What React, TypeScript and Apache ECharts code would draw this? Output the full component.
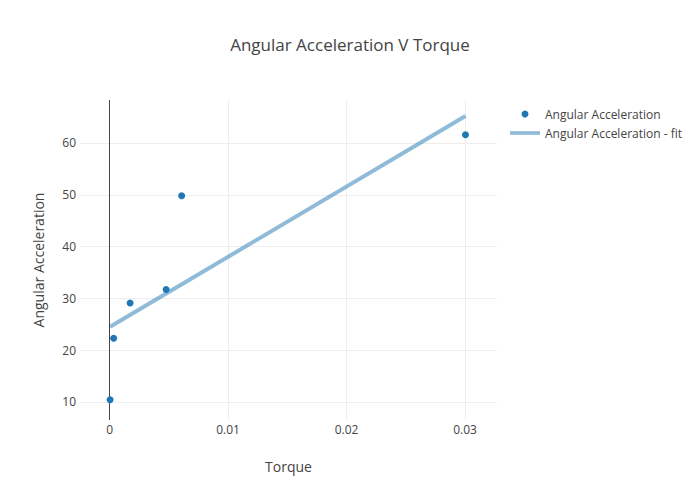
import React, { useEffect, useRef } from "react";
import * as echarts from "echarts";

const torque = [0.00004, 0.00034, 0.00173, 0.00477, 0.00608, 0.03004];
const angAcc = [10.4, 22.3, 29.1, 31.7, 49.8, 61.6];
const fitX = [0.00004, 0.03004];
const fitY = [24.5, 65.2];
const xTicks = [0, 0.01, 0.02, 0.03];
const yTicks = [10, 20, 30, 40, 50, 60];

const FONT = "'Open Sans', 'Noto Sans', sans-serif";

export default function App() {
  const ref = useRef<HTMLDivElement>(null);
  useEffect(() => {
    if (!ref.current) return;
    const chart = echarts.init(ref.current, undefined, { renderer: "svg" });
    chart.setOption({
      animation: false,
      backgroundColor: "#fff",
      textStyle: { fontFamily: FONT, color: "#444" },
      title: {
        text: "Angular Acceleration V Torque",
        left: "center",
        top: 31,
        textStyle: { fontFamily: FONT, fontSize: 17, fontWeight: "normal", color: "#444" },
      },
      legend: {
        orient: "vertical",
        left: 510,
        top: 108,
        padding: 0,
        itemWidth: 30,
        itemHeight: 7,
        itemGap: 7,
        textStyle: { fontFamily: FONT, fontSize: 12, color: "#444" },
        data: [
          { name: "Angular Acceleration", icon: "circle" },
          { name: "Angular Acceleration - fit", icon: "path://M0,0 H30 V3.6 H0 Z" },
        ],
      },
      grid: { left: 80, right: 203, top: 100, bottom: 80 },
      xAxis: {
        type: "value",
        min: -0.0025,
        max: 0.0327,
        name: "Torque",
        nameLocation: "middle",
        nameGap: 39,
        nameTextStyle: { fontFamily: FONT, fontSize: 14, color: "#444" },
        axisLine: { show: false },
        axisTick: { show: false },
        splitLine: { show: false },
        axisLabel: {
          customValues: xTicks,
          fontFamily: FONT,
          fontSize: 12,
          color: "#444",
          margin: 3,
        },
      },
      yAxis: {
        type: "value",
        min: 6.5,
        max: 68.3,
        name: "Angular Acceleration",
        nameLocation: "middle",
        nameGap: 35,
        nameTextStyle: { fontFamily: FONT, fontSize: 14, color: "#444" },
        axisLine: { show: false },
        axisTick: { show: false },
        splitLine: { show: false },
        axisLabel: {
          customValues: yTicks,
          fontFamily: FONT,
          fontSize: 12,
          color: "#444",
          margin: 4,
        },
      },
      series: [
        {
          name: "grid",
          type: "line",
          data: [],
          z: 1,
          silent: true,
          markLine: {
            silent: true,
            z: 1,
            symbol: "none",
            label: { show: false },
            animation: false,
            data: [
              ...xTicks
                .filter((v) => v !== 0)
                .map((v) => ({ xAxis: v, lineStyle: { color: "#eee", width: 1, type: "solid" } })),
              ...yTicks.map((v) => ({ yAxis: v, lineStyle: { color: "#eee", width: 1, type: "solid" } })),
              { xAxis: 0, lineStyle: { color: "#444", width: 1, type: "solid" } },
            ],
          },
        },
        {
          name: "Angular Acceleration - fit",
          type: "line",
          z: 3,
          symbol: "none",
          data: fitX.map((x, i) => [x, fitY[i]]),
          lineStyle: { color: "rgba(31,119,180,0.5)", width: 4 },
          itemStyle: { color: "rgba(31,119,180,0.5)" },
        },
        {
          name: "Angular Acceleration",
          type: "scatter",
          z: 4,
          symbol: "circle",
          symbolSize: 7,
          data: torque.map((x, i) => [x, angAcc[i]]),
          itemStyle: { color: "#1f77b4", opacity: 1 },
        },
      ],
    });
    return () => chart.dispose();
  }, []);
  return (
    <div
      ref={ref}
      style={{ position: "fixed", left: 0, top: 0, width: 700, height: 500 }}
    />
  );
}
